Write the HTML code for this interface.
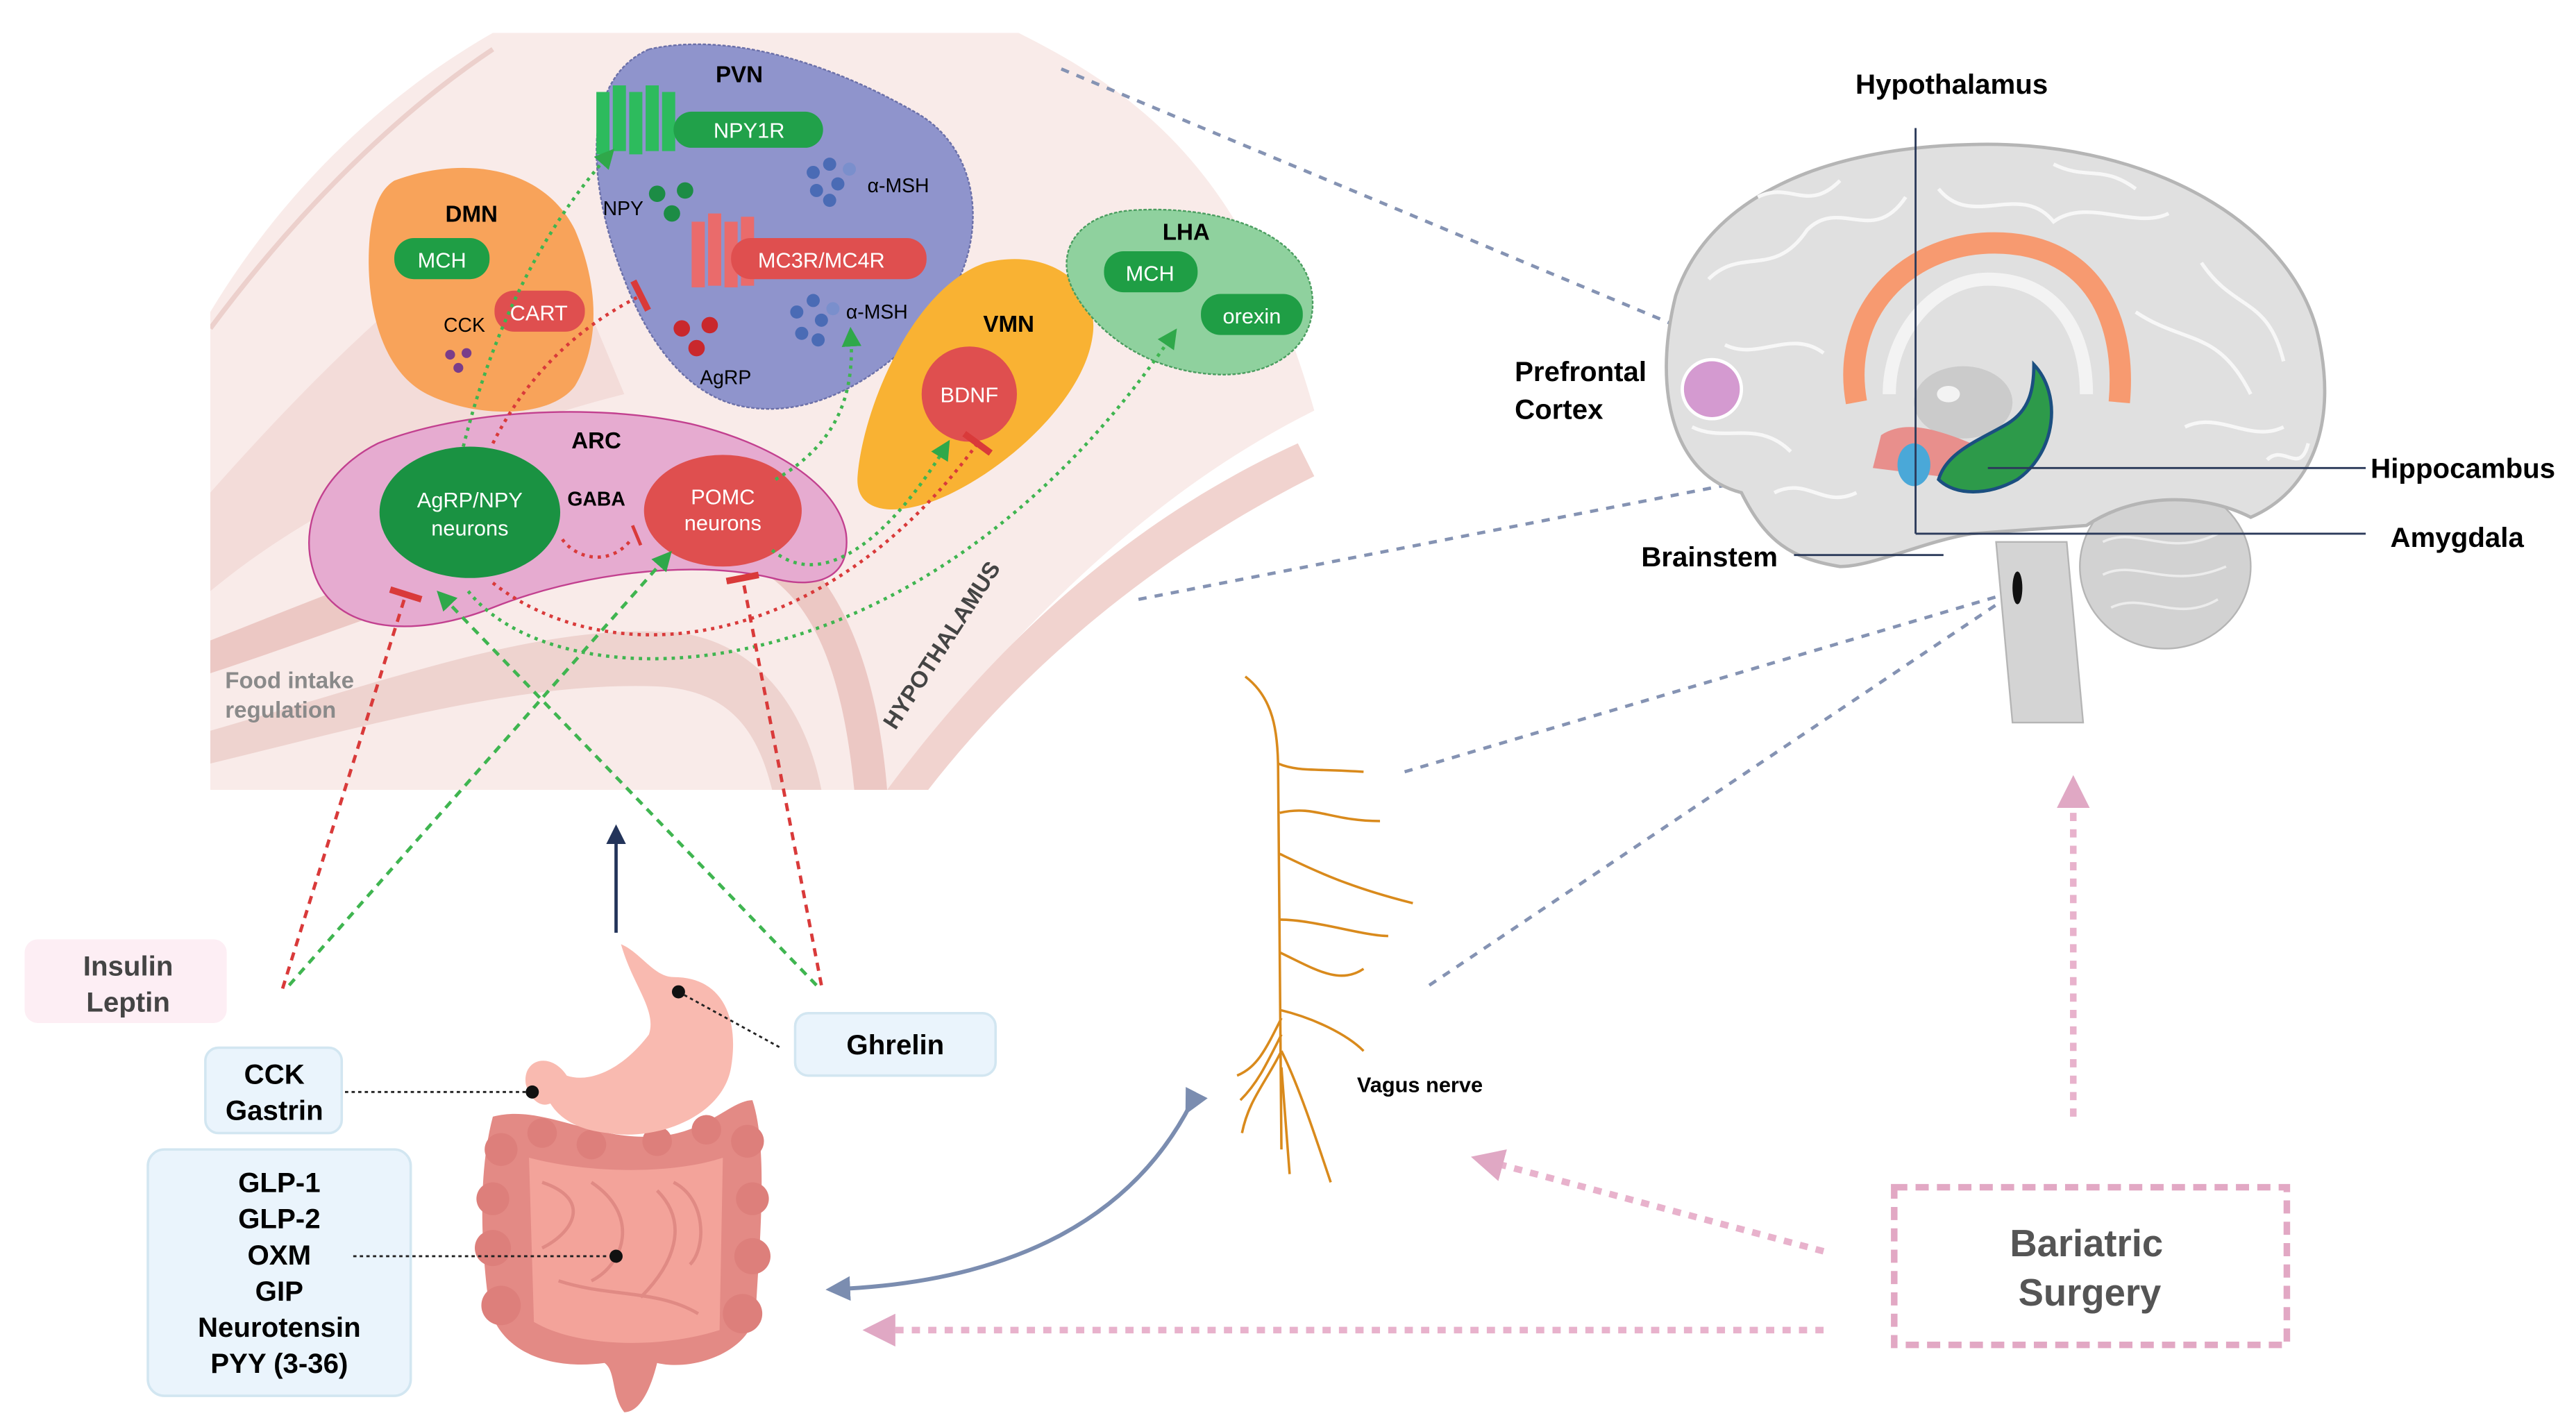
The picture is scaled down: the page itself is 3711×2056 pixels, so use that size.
<!DOCTYPE html>
<html><head><meta charset="utf-8"><style>
html,body{margin:0;padding:0;background:#fff;}
svg{display:block;}
text{font-family:"Liberation Sans",sans-serif;}
</style></head><body>
<svg width="3711" height="2056" viewBox="0 0 1568 869" preserveAspectRatio="none" xmlns="http://www.w3.org/2000/svg">
<defs>
<marker id="ag" markerWidth="6" markerHeight="6" refX="3" refY="3" orient="auto"><path d="M0,0 L6,3 L0,6 z" fill="#2fa84a"/></marker>
<marker id="tr" markerWidth="4" markerHeight="10" refX="2" refY="5" orient="auto"><rect x="1" y="0" width="2" height="10" fill="#d93a3a"/></marker>
<marker id="ab" markerWidth="6" markerHeight="6" refX="3" refY="3" orient="auto"><path d="M0,0 L6,3 L0,6 z" fill="#7b8db0"/></marker>
<marker id="an" markerWidth="6" markerHeight="6" refX="3" refY="3" orient="auto"><path d="M0,0 L6,3 L0,6 z" fill="#23345a"/></marker>
<marker id="ap" markerWidth="5" markerHeight="5" refX="2.5" refY="2.5" orient="auto"><path d="M0,0 L5,2.5 L0,5 z" fill="#e0a8c4"/></marker>
<clipPath id="hc"><rect x="128" y="0" width="700" height="481"/></clipPath>
</defs>

<!-- hypothalamus background -->
<g clip-path="url(#hc)">
<path d="M128,190 C170,120 230,60 300,20 L620,20 C700,60 760,110 800,250 C700,300 620,380 540,481 L128,481 Z" fill="#f9ebe9"/>
<path d="M128,300 C190,230 260,160 330,120 L380,240 C300,260 200,300 128,360 Z" fill="#f3dcd9"/>
<path d="M128,410 C250,370 330,330 420,335 C480,340 510,380 520,481 L540,481 C530,360 480,310 420,310 C320,310 230,350 128,390 Z" fill="#ecc8c4"/>
<path d="M128,445 C250,410 330,380 410,385 C460,390 490,430 500,481 L470,481 C460,440 440,420 400,418 C320,415 230,440 128,465 Z" fill="#eed3cf"/>
<path d="M540,481 C600,400 680,320 790,270 L800,290 C700,340 620,410 565,481 Z" fill="#f1d3cf"/>
<path d="M128,200 C180,130 240,70 300,30" stroke="#ecd0cc" stroke-width="3" fill="none"/>
</g>
<text x="137" y="419" font-size="14" fill="#8a8a8a" font-weight="bold">Food intake</text>
<text x="137" y="437" font-size="14" fill="#8a8a8a" font-weight="bold">regulation</text>
<text x="0" y="0" font-size="14" font-weight="bold" fill="#444" transform="translate(545,445) rotate(-57)">HYPOTHALAMUS</text>

<!-- PVN -->
<path d="M395,30 C440,20 500,35 560,70 C600,95 600,150 575,185 C545,225 500,255 455,248 C420,243 395,210 380,170 C360,120 350,50 395,30 Z" fill="#8f94cc" stroke="#6a6fa8" stroke-width="1" stroke-dasharray="2,1"/>
<text x="450" y="50" font-size="14" font-weight="bold" text-anchor="middle">PVN</text>
<g fill="#2dbb5d"><rect x="363" y="56" width="8" height="38"/><rect x="373" y="52" width="8" height="40"/><rect x="383" y="56" width="8" height="38"/><rect x="393" y="52" width="8" height="40"/><rect x="403" y="56" width="8" height="36"/></g>
<rect x="410" y="68" width="91" height="22" rx="11" fill="#21a14a"/>
<text x="456" y="84" font-size="13" fill="#fff" text-anchor="middle">NPY1R</text>
<g fill="#4a6bb5"><circle cx="495" cy="105" r="4"/><circle cx="505" cy="100" r="4"/><circle cx="510" cy="112" r="4"/><circle cx="497" cy="116" r="4"/><circle cx="517" cy="103" r="4" fill="#7a8fcc"/><circle cx="505" cy="122" r="4"/></g>
<text x="528" y="117" font-size="12">α-MSH</text>
<text x="367" y="131" font-size="12">NPY</text>
<g fill="#1c8c45"><circle cx="400" cy="118" r="5"/><circle cx="417" cy="116" r="5"/><circle cx="409" cy="130" r="5"/></g>
<g fill="#ea6b6b"><rect x="421" y="135" width="8" height="40"/><rect x="431" y="130" width="8" height="44"/><rect x="441" y="135" width="8" height="40"/><rect x="451" y="132" width="8" height="42"/></g>
<rect x="445" y="145" width="119" height="25" rx="12" fill="#df4f4f"/>
<text x="500" y="163" font-size="13" fill="#fff" text-anchor="middle">MC3R/MC4R</text>
<g fill="#4a6bb5"><circle cx="485" cy="190" r="4"/><circle cx="495" cy="183" r="4"/><circle cx="500" cy="195" r="4"/><circle cx="488" cy="203" r="4"/><circle cx="507" cy="188" r="4" fill="#7a8fcc"/><circle cx="498" cy="207" r="4"/></g>
<text x="515" y="194" font-size="12">α-MSH</text>
<g fill="#c9282d"><circle cx="415" cy="200" r="5"/><circle cx="432" cy="198" r="5"/><circle cx="424" cy="212" r="5"/></g>
<text x="426" y="234" font-size="12">AgRP</text>

<!-- DMN -->
<path d="M240,110 C280,95 330,100 350,140 C365,175 365,210 350,235 C335,255 290,255 260,240 C230,225 222,180 225,145 C227,125 232,115 240,110 Z" fill="#f8a35a"/>
<text x="287" y="135" font-size="14" font-weight="bold" text-anchor="middle">DMN</text>
<rect x="240" y="145" width="58" height="25" rx="12" fill="#1f9e45"/>
<text x="269" y="163" font-size="13" fill="#fff" text-anchor="middle">MCH</text>
<rect x="301" y="177" width="55" height="25" rx="12" fill="#df4f4f"/>
<text x="328" y="195" font-size="13" fill="#fff" text-anchor="middle">CART</text>
<text x="270" y="202" font-size="12">CCK</text>
<g fill="#7a3d8a"><circle cx="274" cy="216" r="3"/><circle cx="284" cy="215" r="3"/><circle cx="279" cy="224" r="3"/></g>

<!-- VMN -->
<path d="M600,160 C640,150 670,175 665,205 C660,240 620,280 580,300 C550,315 520,315 522,290 C525,250 555,175 600,160 Z" fill="#f9b233"/>
<text x="614" y="202" font-size="14" font-weight="bold" text-anchor="middle">VMN</text>
<circle cx="590" cy="240" r="29" fill="#df4f4f"/>
<text x="590" y="245" font-size="13" fill="#fff" text-anchor="middle">BDNF</text>

<!-- LHA -->
<path d="M690,128 C740,125 790,140 798,175 C805,210 775,230 740,228 C700,226 670,205 655,180 C640,155 655,130 690,128 Z" fill="#8fd19e" stroke="#4a9d5f" stroke-width="1" stroke-dasharray="2,1"/>
<text x="722" y="146" font-size="14" font-weight="bold" text-anchor="middle">LHA</text>
<rect x="672" y="153" width="57" height="25" rx="12" fill="#1f9e45"/>
<text x="700" y="171" font-size="13" fill="#fff" text-anchor="middle">MCH</text>
<rect x="731" y="179" width="62" height="25" rx="12" fill="#1f9e45"/>
<text x="762" y="197" font-size="13" fill="#fff" text-anchor="middle">orexin</text>

<!-- ARC -->
<path d="M230,270 C280,250 360,245 420,258 C470,270 510,295 515,325 C518,350 500,360 470,352 C420,340 350,350 300,370 C250,390 200,385 190,345 C182,315 200,285 230,270 Z" fill="#e6abd0" stroke="#c2408f" stroke-width="1"/>
<text x="363" y="273" font-size="14" font-weight="bold" text-anchor="middle">ARC</text>
<ellipse cx="286" cy="312" rx="55" ry="40" fill="#1a9242"/>
<text x="286" y="309" font-size="13" fill="#fff" text-anchor="middle">AgRP/NPY</text>
<text x="286" y="326" font-size="13" fill="#fff" text-anchor="middle">neurons</text>
<text x="363" y="308" font-size="12" font-weight="bold" text-anchor="middle">GABA</text>
<ellipse cx="440" cy="311" rx="48" ry="34" fill="#df4f4f"/>
<text x="440" y="307" font-size="13" fill="#fff" text-anchor="middle">POMC</text>
<text x="440" y="323" font-size="13" fill="#fff" text-anchor="middle">neurons</text>

<!-- hypothalamic connectors -->
<g fill="none" stroke-width="2" stroke-dasharray="2,3">
<path d="M282,272 C300,200 330,140 370,95" stroke="#3fb550" marker-end="url(#ag)"/>
<path d="M300,270 C320,230 350,200 390,180" stroke="#d93a3a" marker-end="url(#tr)"/>
<path d="M383,330 C370,345 350,340 342,328" stroke="#d93a3a"/>
<path d="M472,292 C510,270 520,240 518,205" stroke="#3fb550" marker-end="url(#ag)"/>
<path d="M470,335 C500,360 540,330 575,273" stroke="#3fb550" marker-end="url(#ag)"/>
<path d="M300,355 C370,410 500,400 595,270" stroke="#d93a3a" marker-end="url(#tr)"/>
<path d="M285,360 C340,430 560,430 713,205" stroke="#3fb550" marker-end="url(#ag)"/>
</g>
<path d="M385,320 L390,332" stroke="#d93a3a" stroke-width="2"/>

<!-- hormone arrows to ARC -->
<g fill="none" stroke-width="2" stroke-dasharray="5,4">
<path d="M172,602 L247,362" stroke="#d93a3a" marker-end="url(#tr)"/>
<path d="M176,600 L405,340" stroke="#3fb550" marker-end="url(#ag)"/>
<path d="M497,600 L270,364" stroke="#3fb550" marker-end="url(#ag)"/>
<path d="M500,600 L452,352" stroke="#d93a3a" marker-end="url(#tr)"/>
</g>
<line x1="375" y1="568" x2="375" y2="508" stroke="#23345a" stroke-width="2" marker-end="url(#an)"/>

<!-- boxes -->
<rect x="15" y="572" width="123" height="51" rx="8" fill="#fdeef4"/>
<text x="78" y="594" font-size="17" font-weight="bold" fill="#444" text-anchor="middle">Insulin</text>
<text x="78" y="616" font-size="17" font-weight="bold" fill="#444" text-anchor="middle">Leptin</text>
<rect x="125" y="638" width="83" height="52" rx="8" fill="#eaf4fc" stroke="#d2e6f1" stroke-width="1.5"/>
<text x="167" y="660" font-size="17" font-weight="bold" text-anchor="middle">CCK</text>
<text x="167" y="682" font-size="17" font-weight="bold" text-anchor="middle">Gastrin</text>
<rect x="90" y="700" width="160" height="150" rx="10" fill="#eaf4fc" stroke="#d2e6f1" stroke-width="1.5"/>
<g font-size="17" font-weight="bold" text-anchor="middle">
<text x="170" y="726">GLP-1</text><text x="170" y="748">GLP-2</text><text x="170" y="770">OXM</text>
<text x="170" y="792">GIP</text><text x="170" y="814">Neurotensin</text><text x="170" y="836">PYY (3-36)</text></g>
<rect x="484" y="617" width="122" height="38" rx="8" fill="#eaf4fc" stroke="#d2e6f1" stroke-width="1.5"/>
<text x="545" y="642" font-size="17" font-weight="bold" text-anchor="middle">Ghrelin</text>

<!-- stomach & intestine -->
<path d="M300,680 C330,672 360,695 400,692 C430,690 445,670 458,670 C468,700 462,760 460,800 C455,825 420,835 400,830 C395,850 388,860 380,860 C372,850 375,835 368,830 C330,835 300,820 297,790 C292,750 292,710 300,680 Z" fill="#e38a85"/>
<g fill="#dd7f7b"><circle cx="305" cy="700" r="10"/><circle cx="300" cy="730" r="10"/><circle cx="300" cy="760" r="11"/><circle cx="305" cy="795" r="12"/><circle cx="455" cy="695" r="10"/><circle cx="458" cy="730" r="10"/><circle cx="458" cy="765" r="11"/><circle cx="452" cy="800" r="12"/><circle cx="330" cy="690" r="9"/><circle cx="360" cy="697" r="9"/><circle cx="400" cy="695" r="9"/><circle cx="430" cy="688" r="9"/></g>
<path d="M322,705 C360,715 410,715 440,705 L438,810 C400,822 350,820 325,805 Z" fill="#f3a39a"/>
<g fill="none" stroke="#e08a84" stroke-width="2"><path d="M330,720 C360,730 350,750 330,760"/><path d="M360,720 C390,740 380,770 360,780"/><path d="M400,725 C420,745 410,770 390,790"/><path d="M340,780 C370,790 400,785 425,800"/><path d="M410,720 C430,730 430,760 420,770"/></g>
<path d="M378,575 C390,580 398,595 410,595 C440,595 450,620 445,650 C440,680 400,695 370,690 C350,688 340,680 335,672 C328,675 322,668 320,660 C318,645 335,640 345,655 C360,660 380,650 395,630 C400,615 385,600 378,575 Z" fill="#f9bab0"/>
<g stroke="#222" stroke-width="1.2" stroke-dasharray="2,2" fill="none">
<line x1="413" y1="604" x2="475" y2="638"/><line x1="210" y1="665" x2="324" y2="665"/><line x1="215" y1="765" x2="375" y2="765"/></g>
<circle cx="413" cy="604" r="4" fill="#111"/><circle cx="324" cy="665" r="4" fill="#111"/><circle cx="375" cy="765" r="4" fill="#111"/>

<!-- vagus nerve -->
<g stroke="#d98a1c" stroke-width="1.5" fill="none">
<path d="M758,412 C775,425 778,445 778,470 L780,700"/>
<path d="M778,465 C790,470 800,468 830,470"/><path d="M779,495 C800,490 810,500 840,500"/>
<path d="M779,520 C800,530 820,540 860,550"/><path d="M779,560 C800,560 830,570 845,570"/>
<path d="M779,580 C800,590 815,600 830,590"/><path d="M779,615 C800,620 820,630 830,640"/>
<path d="M780,620 C770,640 765,650 753,655"/><path d="M780,630 C770,650 765,660 755,670"/><path d="M780,640 C770,660 760,670 756,690"/>
<path d="M780,640 C790,660 800,690 810,720"/><path d="M780,650 L785,715"/>
</g>
<text x="826" y="665" font-size="13" font-weight="bold">Vagus nerve</text>
<path d="M725,672 C690,740 620,780 510,785" stroke="#7b8db0" stroke-width="2.5" fill="none" marker-end="url(#ab)" marker-start="url(#ab)"/>

<!-- blue dashed lines -->
<g stroke="#8593b3" stroke-width="2" stroke-dasharray="5,5" fill="none">
<path d="M646,42 L1120,240"/>
<path d="M693,365 L1130,280"/>
<path d="M855,470 L1220,362"/>
<path d="M870,600 L1220,365"/>
</g>

<!-- brain -->
<ellipse cx="1318" cy="345" rx="52" ry="50" fill="#d2d2d2" stroke="#b5b5b5"/>
<g stroke="#ececec" stroke-width="1.5" fill="none"><path d="M1280,330 C1300,320 1320,340 1350,325"/><path d="M1280,350 C1300,340 1320,360 1355,345"/><path d="M1285,370 C1305,360 1325,380 1350,365"/></g>
<path d="M1215,330 L1225,440 L1268,440 L1258,330 Z" fill="#d4d4d4" stroke="#b5b5b5"/>
<path d="M1020,180 C1040,120 1110,90 1200,88 C1300,85 1390,130 1410,200 C1425,260 1405,300 1370,315 C1340,300 1300,300 1270,320 L1200,325 C1170,330 1140,345 1120,345 C1090,340 1075,330 1060,300 C1020,290 1005,240 1020,180 Z" fill="#e0e0e0" stroke="#b5b5b5" stroke-width="2"/>
<g stroke="#f7f7f7" stroke-width="2.2" fill="none">
<path d="M1040,170 C1060,150 1080,170 1100,140 C1120,120 1140,150 1160,120"/><path d="M1180,115 C1200,140 1230,110 1250,135 C1270,120 1300,140 1320,130"/>
<path d="M1340,160 C1360,190 1380,180 1390,220"/><path d="M1050,210 C1070,220 1090,200 1110,215"/><path d="M1030,260 C1050,270 1070,255 1090,275"/>
<path d="M1300,190 C1330,210 1350,200 1370,240"/><path d="M1070,120 C1090,110 1100,130 1120,110"/><path d="M1330,260 C1350,250 1370,270 1390,260"/>
<path d="M1080,300 C1100,290 1110,310 1130,300"/><path d="M1380,280 C1390,270 1400,290 1405,270"/><path d="M1250,100 C1270,110 1280,100 1300,115"/></g>
<path d="M1130,245 C1120,190 1160,150 1210,148 C1270,146 1295,190 1290,245" stroke="#f79a70" stroke-width="13" fill="none"/>
<path d="M1150,240 C1150,200 1180,170 1210,170 C1250,170 1270,200 1270,240" stroke="#f3f3f3" stroke-width="8" fill="none"/>
<ellipse cx="1195" cy="245" rx="30" ry="22" fill="#cbcbcb"/>
<ellipse cx="1186" cy="240" rx="7" ry="5" fill="#f3f3f3"/>
<path d="M1145,265 C1160,255 1180,262 1200,270 L1180,290 L1140,285 Z" fill="#e88f8c"/>
<path d="M1238,222 C1255,240 1252,275 1228,292 C1210,302 1190,302 1180,292 C1185,275 1205,268 1222,258 C1235,250 1238,238 1238,222 Z" fill="#2d9a4a" stroke="#1b4f80" stroke-width="2"/>
<ellipse cx="1165" cy="283" rx="10" ry="13" fill="#4aa8d8"/>
<ellipse cx="1228" cy="358" rx="3" ry="10" fill="#111"/>
<circle cx="1042" cy="237" r="18" fill="#d49ad0" stroke="#fff" stroke-width="2"/>
<g stroke="#2b3a5a" stroke-width="1.2">
<line x1="1166" y1="78" x2="1166" y2="325"/><line x1="1166" y1="325" x2="1440" y2="325"/>
<line x1="1210" y1="285" x2="1440" y2="285"/><line x1="1092" y1="338" x2="1183" y2="338"/></g>
<text x="1188" y="57" font-size="17" font-weight="bold" text-anchor="middle">Hypothalamus</text>
<text x="922" y="232" font-size="17" font-weight="bold">Prefrontal</text>
<text x="922" y="255" font-size="17" font-weight="bold">Cortex</text>
<text x="1443" y="291" font-size="17" font-weight="bold">Hippocambus</text>
<text x="1455" y="333" font-size="17" font-weight="bold">Amygdala</text>
<text x="999" y="345" font-size="17" font-weight="bold">Brainstem</text>

<!-- bariatric -->
<rect x="1153" y="723" width="239" height="96" fill="none" stroke="#e2a8c4" stroke-width="4" stroke-dasharray="8,5"/>
<text x="1270" y="765" font-size="23" font-weight="bold" fill="#555" text-anchor="middle">Bariatric</text>
<text x="1272" y="795" font-size="23" font-weight="bold" fill="#555" text-anchor="middle">Surgery</text>
<g stroke="#e8b2cc" stroke-width="4" stroke-dasharray="5,5" fill="none">
<line x1="1262" y1="680" x2="1262" y2="482" marker-end="url(#ap)"/>
<line x1="1110" y1="762" x2="905" y2="707" marker-end="url(#ap)"/>
<line x1="1110" y1="810" x2="535" y2="810" marker-end="url(#ap)"/>
</g>
</svg>
</body></html>
